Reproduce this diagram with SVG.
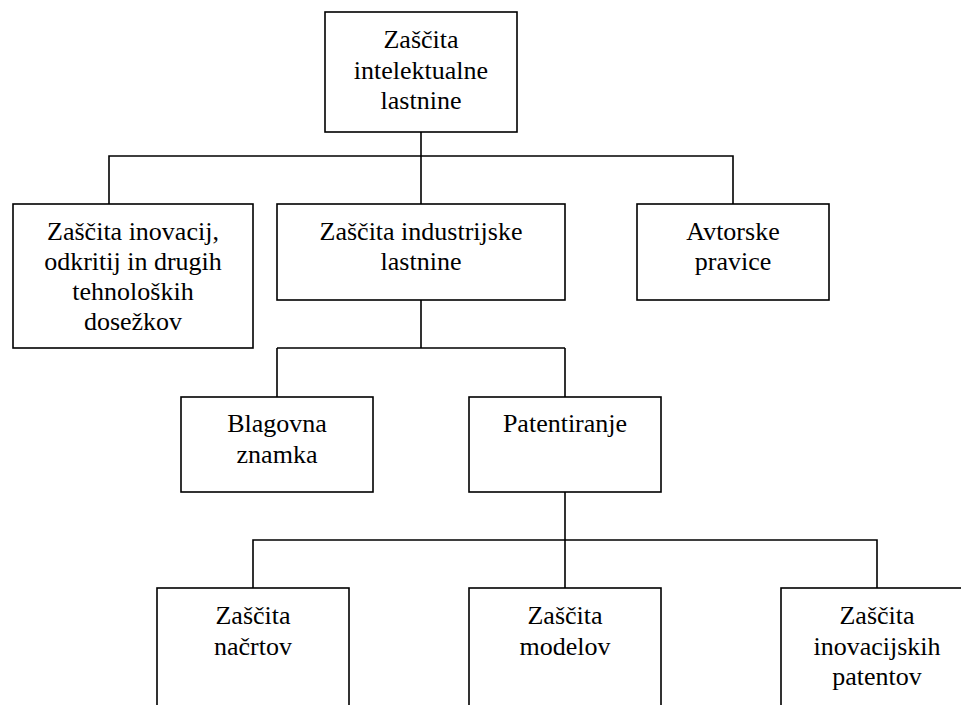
<svg xmlns="http://www.w3.org/2000/svg" width="961" height="705" viewBox="0 0 961 705">
<style>
rect{fill:#fff;stroke:#000;stroke-width:1.6}
.c{fill:none;stroke:#000;stroke-width:1.6}
text{font-family:"Liberation Serif","Times New Roman",serif;font-size:26px;fill:#000;text-anchor:middle}
</style>
<rect x="0" y="0" width="961" height="705" style="stroke:none"/>
<g id="connectors">
<path class="c" d="M421 132V204M109 204V156H733V204"/>
<path class="c" d="M421 300V348M277 348H565M277 348V397M565 348V397"/>
<path class="c" d="M565 492V588M253 588V540H877V588"/>
</g>
<g id="n-root"><rect x="325" y="12" width="192" height="120"/><text x="421" y="48">Zaščita</text><text x="421" y="79">intelektualne</text><text x="421" y="109">lastnine</text></g>
<g id="n-inovacije"><rect x="13" y="204" width="240" height="144"/><text x="133" y="240">Zaščita inovacij,</text><text x="133" y="270">odkritij in drugih</text><text x="133" y="300">tehnoloških</text><text x="133" y="330">dosežkov</text></g>
<g id="n-industrijska"><rect x="277" y="204" width="288" height="96"/><text x="421" y="240">Zaščita industrijske</text><text x="421" y="270">lastnine</text></g>
<g id="n-avtorske"><rect x="637" y="204" width="192" height="96"/><text x="733" y="240">Avtorske</text><text x="733" y="270">pravice</text></g>
<g id="n-blagovna"><rect x="181" y="397" width="192" height="95"/><text x="277" y="432">Blagovna</text><text x="277" y="463">znamka</text></g>
<g id="n-patentiranje"><rect x="469" y="397" width="192" height="95"/><text x="565" y="432">Patentiranje</text></g>
<g id="n-nacrti"><rect x="157" y="588" width="192" height="140"/><text x="253" y="624">Zaščita</text><text x="253" y="655">načrtov</text></g>
<g id="n-modeli"><rect x="469" y="588" width="192" height="140"/><text x="565" y="624">Zaščita</text><text x="565" y="655">modelov</text></g>
<g id="n-inovacijski"><rect x="781" y="588" width="192" height="140"/><text x="877" y="624">Zaščita</text><text x="877" y="655">inovacijskih</text><text x="877" y="685">patentov</text></g>
</svg>
